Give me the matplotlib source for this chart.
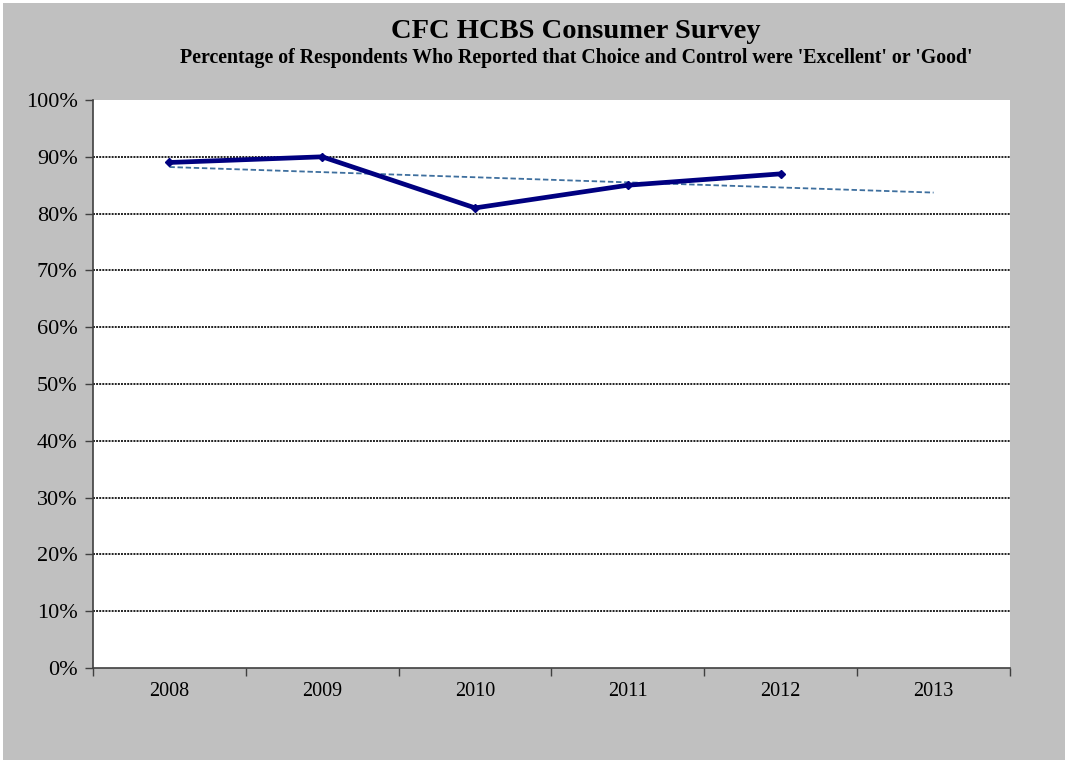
import matplotlib
matplotlib.use("Agg")
import matplotlib.pyplot as plt
import numpy as np
from matplotlib.ticker import FixedLocator, PercentFormatter

years = ["2008", "2009", "2010", "2011", "2012", "2013"]
values = [89, 90, 81, 85, 87]
yticks = [0, 10, 20, 30, 40, 50, 60, 70, 80, 90, 100]

plt.rcParams['font.family'] = ['Liberation Serif', 'DejaVu Serif']

fig = plt.figure(figsize=(10.65, 7.6), dpi=100)
fig.patch.set_facecolor('white')
bg = plt.Rectangle((3 / 1065, 0), 1 - 3 / 1065, 1 - 3 / 760, transform=fig.transFigure,
                   facecolor='#c0c0c0', edgecolor='none', zorder=-10)
fig.patches.append(bg)

ax = fig.add_axes([93 / 1065, 1 - 668 / 760, (1010 - 93) / 1065, (668 - 100) / 760])
ax.set_facecolor('white')

x = np.arange(len(years))
xv = np.arange(len(values))
ax.plot(xv, values, color='#000080', lw=3.4, marker='D', ms=4.5, zorder=4,
        solid_joinstyle='miter')

coef = np.polyfit(xv, values, 1)
ax.plot(x, np.polyval(coef, x), color='#3e6f9e', lw=1.3, ls=(0, (3, 1.5)), zorder=3)

ax.set_xlim(-0.5, len(years) - 0.5)
ax.set_ylim(0, 100)
ax.set_yticks(yticks)
ax.yaxis.set_major_formatter(PercentFormatter(decimals=0))
ax.set_xticks(x)
ax.set_xticklabels(years)
ax.xaxis.set_minor_locator(FixedLocator(np.arange(-0.5, len(years), 1)))
ax.tick_params(axis='x', which='major', length=0, pad=10, labelsize=14.5)
ax.tick_params(axis='x', which='minor', length=6, width=1, color='#404040', direction='out')
ax.tick_params(axis='y', length=6, width=1, color='#404040', direction='out', labelsize=16, pad=5)

for t in yticks[1:-1]:
    ax.axhline(t, color='#202020', lw=1.4, ls=(0, (1, 0.6)), zorder=1)

for s in ['top', 'right']:
    ax.spines[s].set_visible(False)
for s in ['left', 'bottom']:
    ax.spines[s].set_color('#404040')
    ax.spines[s].set_linewidth(1.2)

cx = 576 / 1065
fig.text(cx, 1 - 31 / 760, "CFC HCBS Consumer Survey", ha='center', va='center',
         fontsize=20.5, fontweight='bold')
fig.text(cx, 1 - 58 / 760,
         "Percentage of Respondents Who Reported that Choice and Control were 'Excellent' or 'Good'",
         ha='center', va='center', fontsize=14.3, fontweight='bold')

fig.savefig('out.png', dpi=100, facecolor=fig.get_facecolor())
